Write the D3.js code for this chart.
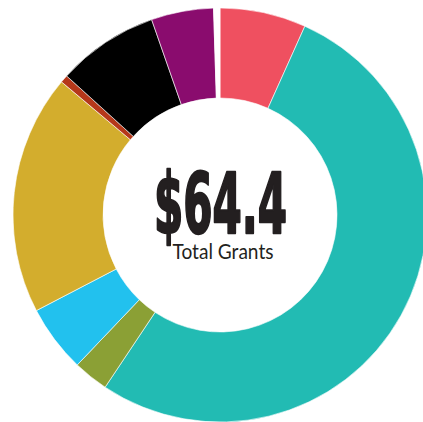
<!DOCTYPE html>
<html><head><meta charset="utf-8">
<script src="https://cdn.jsdelivr.net/npm/d3@7"></script>
<style>html,body{margin:0;padding:0;background:#fff;}svg{display:block;}</style>
</head><body>
<script>
const categories = ["A","B","C","D","E","F","G","H","gap"];
const values = [4.33, 33.9, 1.77, 3.38, 12.08, 0.39, 5.1, 3.13, 0.32];
const colors = ["#EF5060","#22BBB3","#8BA035","#22C1EE","#D3AD2D","#B5381A","#000000","#8A0C6E","#FFFFFF"];
const totalLabel = "$64.4";
const subLabel = "Total Grants";

const W = 423, H = 422, cx = 220, cy = 215, R = 207, r = 117;
const svg = d3.select("body").append("svg").attr("width", W).attr("height", H);
const g = svg.append("g").attr("transform", `translate(${cx},${cy})`);
const data = categories.map((c,i)=>({cat:c, value:values[i], color:colors[i]}));
const pie = d3.pie().sort(null).value(d=>d.value);
const arc = d3.arc().innerRadius(r).outerRadius(R);
g.selectAll("path").data(pie(data)).join("path")
  .attr("d", arc).attr("fill", d=>d.data.color)
  .attr("stroke", "#fff").attr("stroke-width", 0.6);

g.append("text").text(totalLabel)
  .attr("x", 0.5).attr("y", 17.5).attr("text-anchor","middle")
  .attr("font-family","'DejaVu Sans', sans-serif").attr("font-stretch","condensed")
  .attr("font-weight","bold").attr("font-size", 83).attr("fill","#231F20")
  .attr("stroke","#231F20").attr("stroke-width",2.4).attr("stroke-linejoin","round")
  .attr("textLength", 133).attr("lengthAdjust","spacingAndGlyphs");
g.append("text").text(subLabel)
  .attr("x", 3).attr("y", 44).attr("text-anchor","middle")
  .attr("font-family","Lato, 'Open Sans', sans-serif")
  .attr("font-size", 21).attr("fill","#231F20")
  .attr("textLength", 101).attr("lengthAdjust","spacingAndGlyphs");
</script>
</body></html>
